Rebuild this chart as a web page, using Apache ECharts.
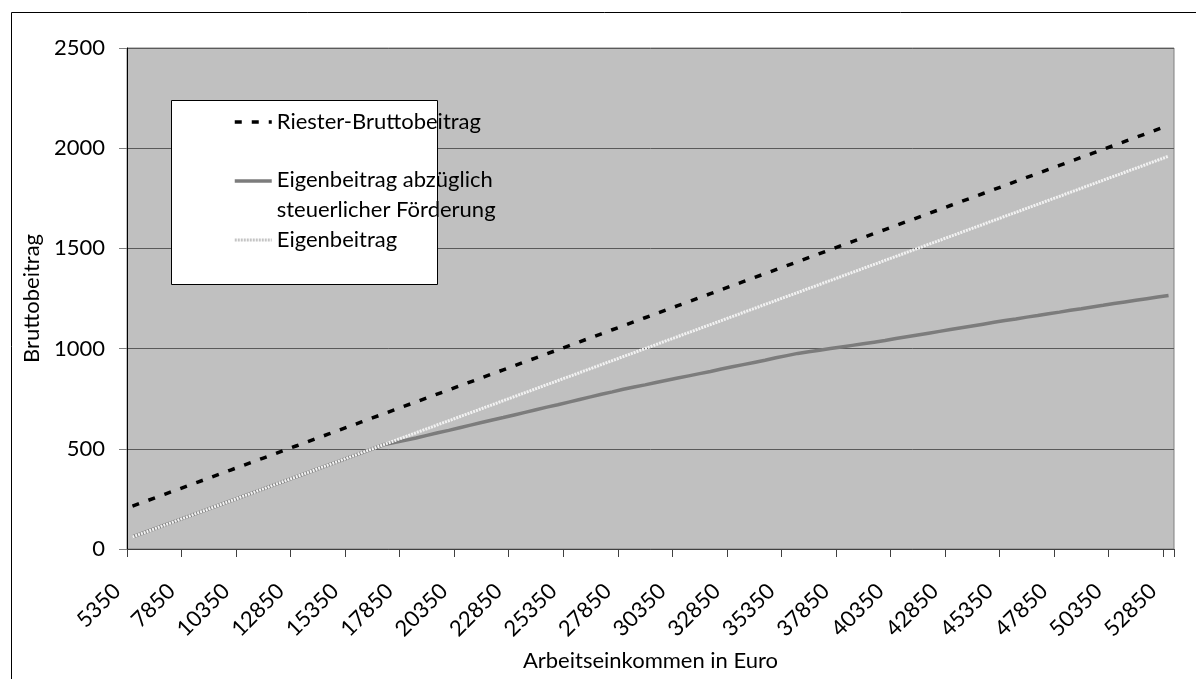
<!DOCTYPE html>
<html>
<head>
<meta charset="utf-8">
<script src="https://cdn.jsdelivr.net/npm/echarts@6/dist/echarts.min.js"></script>
<style>
  html, body { margin: 0; padding: 0; background: #ffffff; }
  #chart { width: 1196px; height: 679px; }
</style>
</head>
<body>
<div id="chart"></div>
<script>
// Arbeitseinkommen in Euro (Kategorien, Schrittweite 500)
const incomes = [
  '5350','5850','6350','6850','7350','7850','8350','8850','9350','9850',
  '10350','10850','11350','11850','12350','12850','13350','13850','14350','14850',
  '15350','15850','16350','16850','17350','17850','18350','18850','19350','19850',
  '20350','20850','21350','21850','22350','22850','23350','23850','24350','24850',
  '25350','25850','26350','26850','27350','27850','28350','28850','29350','29850',
  '30350','30850','31350','31850','32350','32850','33350','33850','34350','34850',
  '35350','35850','36350','36850','37350','37850','38350','38850','39350','39850',
  '40350','40850','41350','41850','42350','42850','43350','43850','44350','44850',
  '45350','45850','46350','46850','47350','47850','48350','48850','49350','49850',
  '50350','50850','51350','51850','52350','52850'
];

// Riester-Bruttobeitrag
const bruttobeitrag = [
  214,234,254,274,294,314,334,354,374,394,
  414,434,454,474,494,514,534,554,574,594,
  614,634,654,674,694,714,734,754,774,794,
  814,834,854,874,894,914,934,954,974,994,
  1014,1034,1054,1074,1094,1114,1134,1154,1174,1194,
  1214,1234,1254,1274,1294,1314,1334,1354,1374,1394,
  1414,1434,1454,1474,1494,1514,1534,1554,1574,1594,
  1614,1634,1654,1674,1694,1714,1734,1754,1774,1794,
  1814,1834,1854,1874,1894,1914,1934,1954,1974,1994,
  2014,2034,2054,2074,2094,2114
];

// Eigenbeitrag abzüglich steuerlicher Förderung
const eigenNetto = [
  60,80,100,120,140,160,180,200,220,240,
  260,280,300,320,340,360,380,400,420,440,
  460,480,500,520,531,542,554,567,580,592,
  605,618,631,644,656,669,682,695,708,720,
  733,746,759,772,784,797,808,819,831,842,
  853,864,875,886,898,909,920,931,942,954,
  965,976,984,992,1000,1008,1016,1024,1032,1040,
  1050,1059,1068,1077,1086,1095,1104,1113,1122,1131,
  1140,1148,1157,1165,1174,1182,1191,1199,1208,1216,
  1225,1233,1241,1249,1257,1265
];

// Eigenbeitrag
const eigenbeitrag = [
  60,80,100,120,140,160,180,200,220,240,
  260,280,300,320,340,360,380,400,420,440,
  460,480,500,520,540,560,580,600,620,640,
  660,680,700,720,740,760,780,800,820,840,
  860,880,900,920,940,960,980,1000,1020,1040,
  1060,1080,1100,1120,1140,1160,1180,1200,1220,1240,
  1260,1280,1300,1320,1340,1360,1380,1400,1420,1440,
  1460,1480,1500,1520,1540,1560,1580,1600,1620,1640,
  1660,1680,1700,1720,1740,1760,1780,1800,1820,1840,
  1860,1880,1900,1920,1940,1960
];

const NAME_BRUTTO = 'Riester-Bruttobeitrag';
const NAME_NETTO = 'Eigenbeitrag abzüglich steuerlicher Förderung';
const NAME_EIGEN = 'Eigenbeitrag';

const FONT = 'Lato';
const FS = 22;

const chart = echarts.init(document.getElementById('chart'), null, { renderer: 'canvas' });

chart.setOption({
  animation: false,
  backgroundColor: '#ffffff',
  textStyle: { fontFamily: FONT, color: '#000' },
  graphic: [
    // äußerer Rahmen
    { type: 'rect', z: 0, silent: true,
      shape: { x: 11.5, y: 12.5, width: 1300, height: 800 },
      style: { fill: 'none', stroke: '#000', lineWidth: 1 } },
    // Legendenkasten
    { type: 'rect', z: 5, silent: true,
      shape: { x: 171.5, y: 100.5, width: 266, height: 184 },
      style: { fill: '#ffffff', stroke: '#000', lineWidth: 1 } }
  ],
  grid: {
    left: 127, right: 22, top: 48, bottom: 130,
    show: true, backgroundColor: '#c0c0c0', borderColor: '#808080', borderWidth: 1
  },
  legend: {
    orient: 'vertical',
    left: 233, top: 107,
    padding: 0,
    itemGap: 0,
    itemWidth: 37,
    itemHeight: 14,
    z: 6,
    itemStyle: { color: 'rgba(0,0,0,0)', borderColor: 'rgba(0,0,0,0)', borderWidth: 0 },
    data: [
      { name: NAME_BRUTTO, lineStyle: { width: 3.5 } },
      { name: NAME_NETTO, lineStyle: { width: 3.5 } },
      { name: NAME_EIGEN, lineStyle: { width: 3, color: '#c4c4c4', type: [2, 1] } }
    ],
    formatter: function (name) {
      if (name === NAME_NETTO) {
        // Leerzeile oben, damit das Symbol auf Höhe der ersten Textzeile steht
        return '{e| }\n{t|Eigenbeitrag abzüglich}\n{t|steuerlicher Förderung}';
      }
      return '{t|' + name + '}';
    },
    textStyle: {
      fontFamily: FONT, fontSize: FS, color: '#000', lineHeight: 30,
      rich: {
        t: { fontFamily: FONT, fontSize: FS, color: '#000', lineHeight: 30 },
        e: { fontFamily: FONT, fontSize: FS, lineHeight: 28 }
      }
    }
  },
  xAxis: {
    type: 'category',
    data: incomes,
    boundaryGap: true,
    name: 'Arbeitseinkommen in Euro',
    nameLocation: 'middle',
    nameGap: 101,
    nameTextStyle: { fontFamily: FONT, fontSize: FS, color: '#000', verticalAlign: 'top' },
    axisLine: { show: true, lineStyle: { color: '#404040', width: 1 } },
    axisTick: { show: true, interval: 4, length: 8, lineStyle: { color: '#404040' } },
    axisLabel: {
      interval: 4, rotate: 45, margin: 23,
      fontFamily: FONT, fontSize: FS, color: '#000',
      padding: [0, 22, 0, 0]
    },
    splitLine: { show: false }
  },
  yAxis: {
    type: 'value',
    min: 0, max: 2500, interval: 500,
    name: 'Bruttobeitrag',
    nameLocation: 'middle',
    nameGap: 73,
    nameRotate: 90,
    nameTextStyle: { fontFamily: FONT, fontSize: FS, color: '#000' },
    axisLine: { show: true, lineStyle: { color: '#000', width: 1 } },
    axisTick: { show: true, length: 8, lineStyle: { color: '#808080' } },
    axisLabel: {
      margin: 22, fontFamily: FONT, fontSize: FS, color: '#000',
      formatter: function (v) { return String(v); }
    },
    splitLine: { show: true, lineStyle: { color: '#5a5a5a', width: 1 } }
  },
  series: [
    {
      name: NAME_BRUTTO, type: 'line', data: bruttobeitrag,
      symbol: 'none', z: 4,
      lineStyle: { color: '#000000', width: 3.5, type: [7, 10], cap: 'butt' },
      itemStyle: { color: '#000000' }
    },
    {
      name: NAME_NETTO, type: 'line', data: eigenNetto,
      symbol: 'none', z: 2,
      lineStyle: { color: '#7c7c7c', width: 3.5 },
      itemStyle: { color: '#7c7c7c' }
    },
    {
      name: NAME_EIGEN, type: 'line', data: eigenbeitrag,
      symbol: 'none', z: 3,
      lineStyle: { color: '#f2f2f2', width: 3, type: [2, 1] },
      itemStyle: { color: '#f2f2f2' }
    }
  ]
});
</script>
</body>
</html>
